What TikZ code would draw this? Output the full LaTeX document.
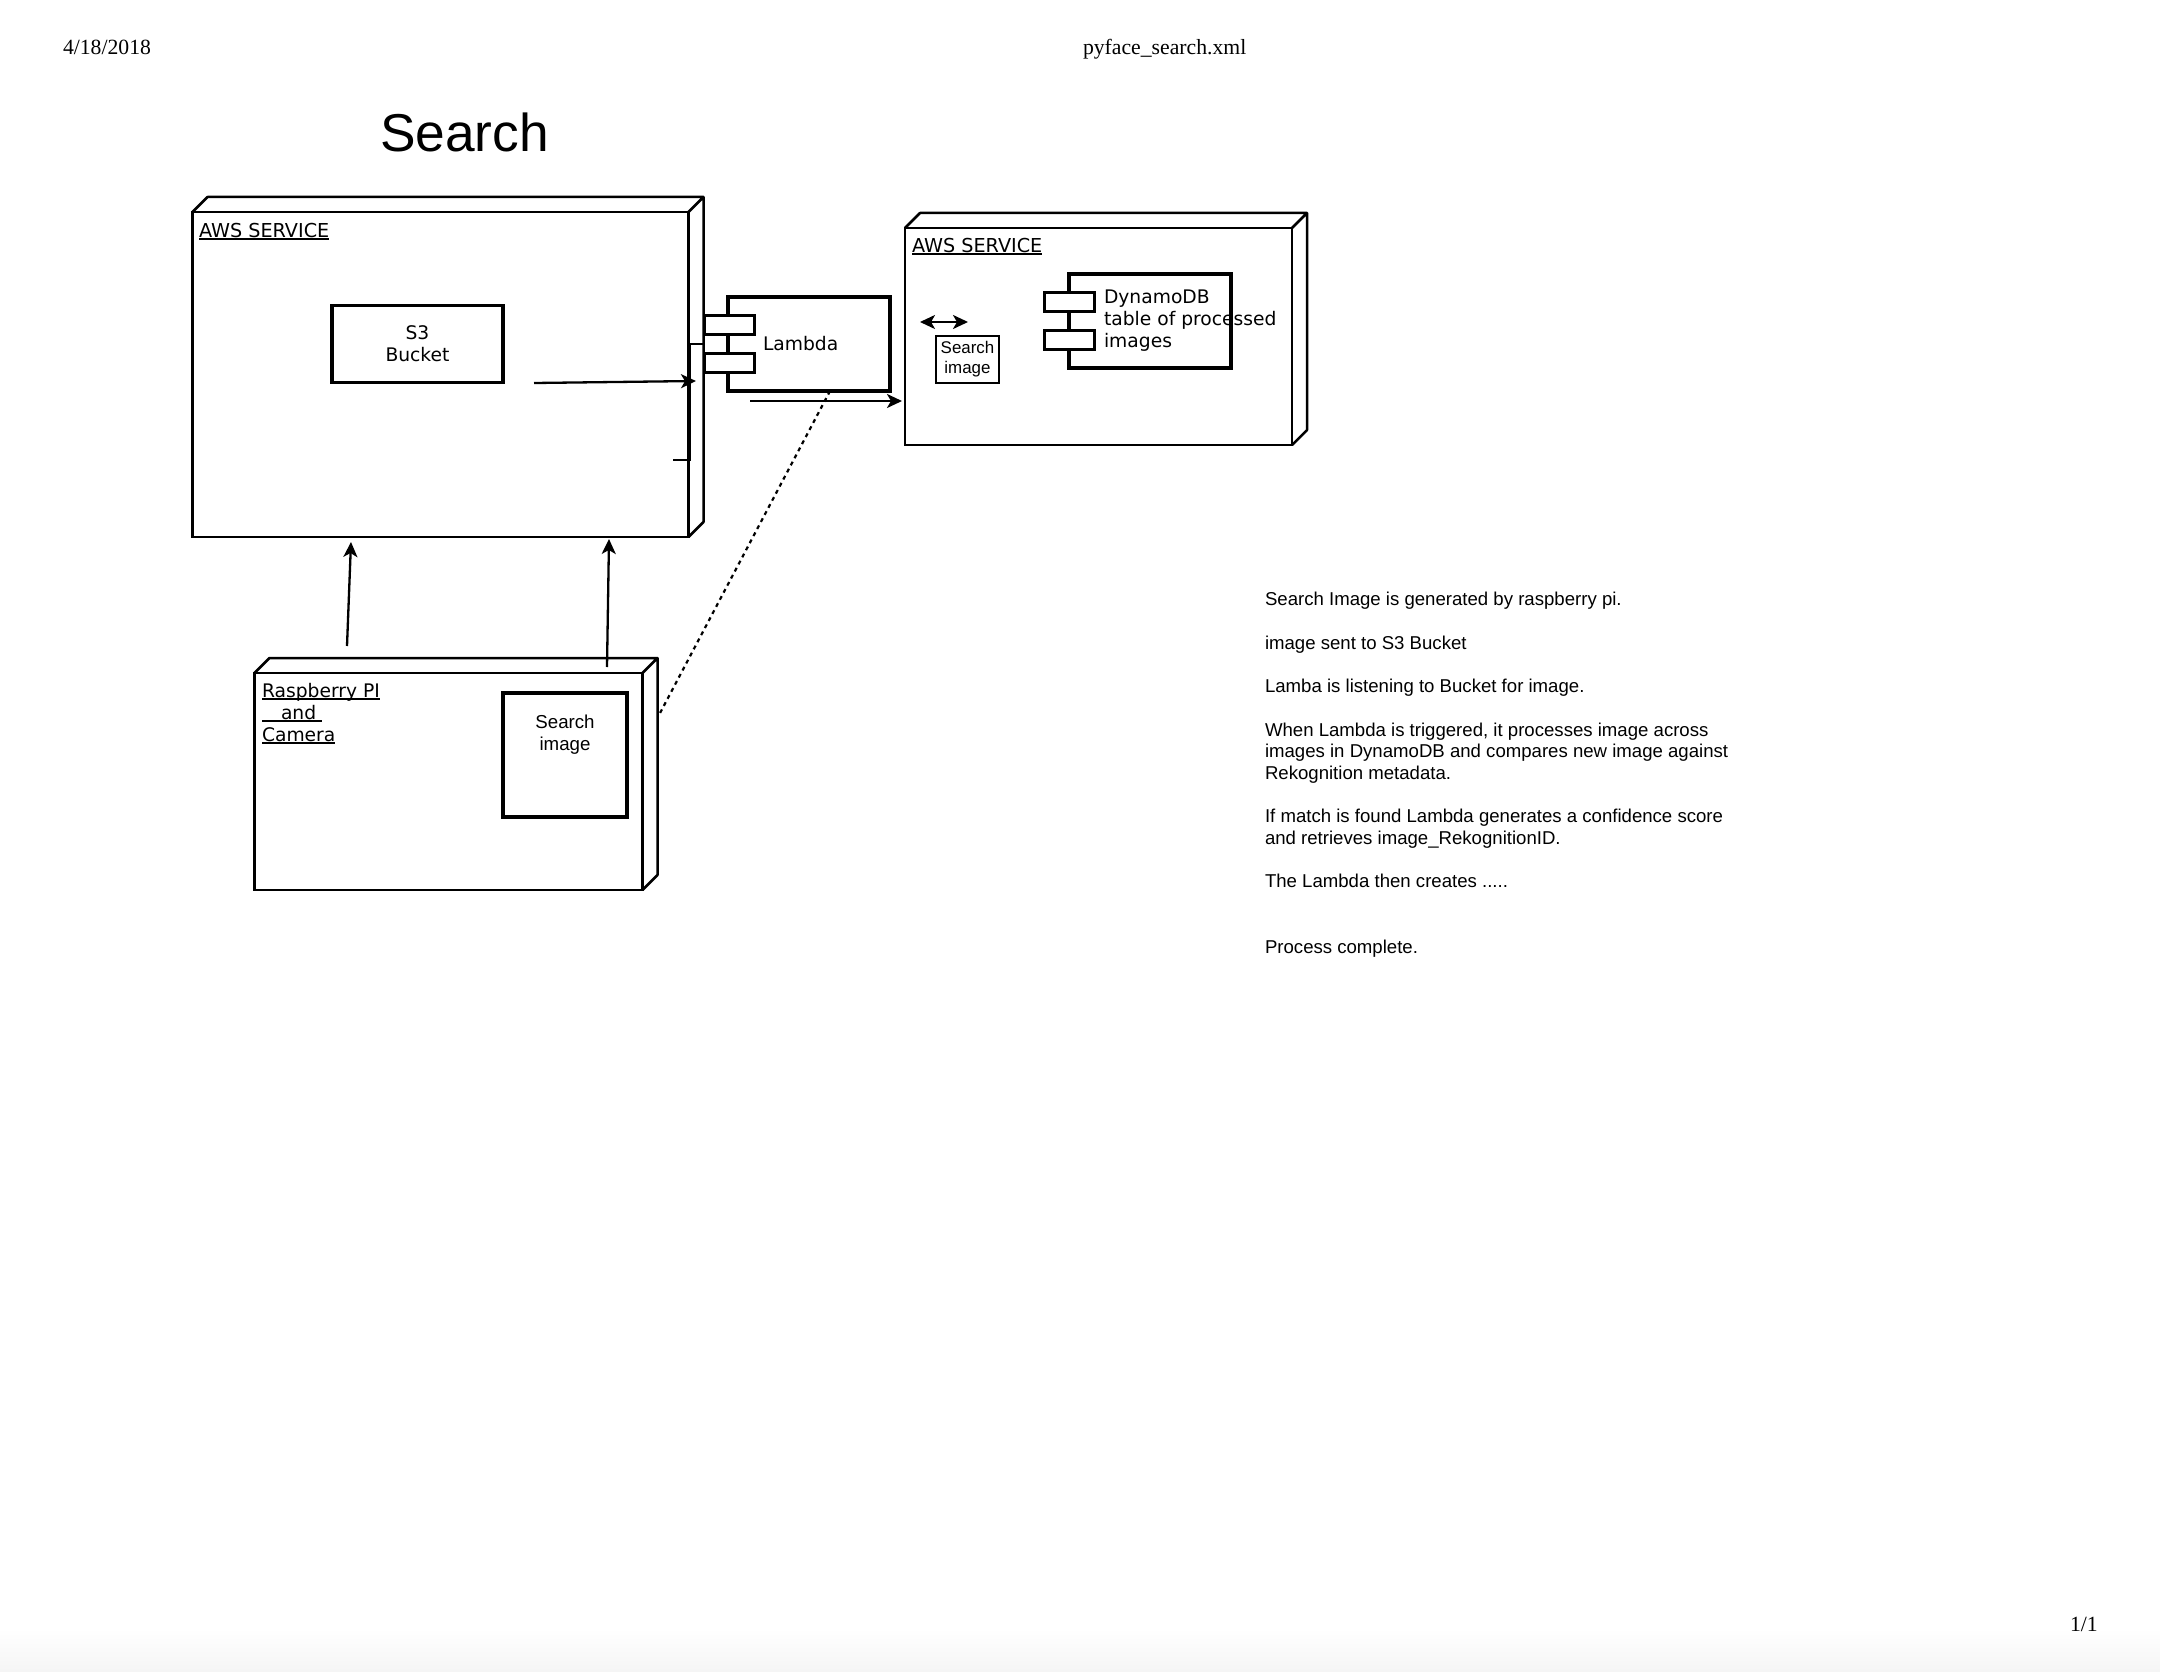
\documentclass[tikz,border=0pt]{standalone}
\usepackage{fontspec}
\setmainfont{Liberation Sans}
\newfontfamily\boxfont{DejaVu Sans}
\newfontfamily\pagefont{Liberation Serif}
\usetikzlibrary{arrows.meta,positioning,calc}

\newsavebox\ulbox
\newcommand{\ulword}[1]{\sbox\ulbox{#1}\rlap{\rule[-3pt]{\wd\ulbox}{1.7pt}}\usebox\ulbox}

\begin{document}
\begin{tikzpicture}[
                    x=1pt, y=-1pt,
                    device/.style={
                        rectangle,
                        draw=black,
                        line width=2.5pt,
                        inner sep=0pt,
                        outer sep=0pt,
                        anchor=north west
                    },
                    part/.style={
                        rectangle,
                        draw=black,
                        line width=3.2pt,
                        inner sep=0pt,
                        outer sep=0pt
                    },
                    port/.style={
                        part,
                        fill=white,
                        line width=3pt,
                        minimum width=50pt,
                        minimum height=19pt
                    },
                    caption/.style={
                        inner sep=0pt,
                        outer sep=0pt,
                        anchor=base west,
                        align=left
                    },
                    boxtext/.style={font=\boxfont\fontsize{18.7}{22}\selectfont},
                    flow/.style={->, line width=2.3pt},
                    >={Stealth[length=15pt,width=14pt,inset=4pt]}
                ]
                \useasboundingbox (0,0) rectangle (2160,1672);
                \shade[top color=white, bottom color=black!4] (0,1628) rectangle (2160,1672);

                % page header and footer
                \node (date) [caption, font=\pagefont\fontsize{21.7}{26}\selectfont] at (63,55) {4/18/2018};
                \node (file) [caption, font=\pagefont\fontsize{21.7}{26}\selectfont] at (1083,55) {pyface\_search.xml};
                \node (pages) [caption, font=\pagefont\fontsize{21.7}{26}\selectfont] at (2070,1631) {1/1};
                \node (title) [caption, font=\fontsize{53.3}{60}\selectfont] at (380,152) {Search};

                % three devices
                \node (awsa) [device, minimum width=496pt, minimum height=325pt] at (192.5,212) {};
                \node (awsb) [device, minimum width=387pt, minimum height=217pt] at (905,228) {};
                \node (rpi) [device, minimum width=388pt, minimum height=217pt] at (254.5,673) {};
                \foreach \n in {awsa,awsb,rpi}
                    \draw [line width=2.5pt, line join=round]
                        (\n.north west) -- ++(15,-15) -| ($(\n.south east)+(15,-15)$) -- (\n.south east)
                        (\n.north east) -- ++(15,-15);

                \node (awsalabel) [caption, font=\boxfont\fontsize{19.2}{22}\selectfont] at (199,237) {\ulword{AWS SERVICE}};
                \node (awsblabel) [caption, font=\boxfont\fontsize{19.2}{22}\selectfont] at (912,252) {\ulword{AWS SERVICE}};
                \node (rpilabel) [caption, boxtext] at (262,741)
                    {\ulword{Raspberry PI}\\\ulword{\hspace*{19pt}and\hspace*{6pt}}\\\ulword{Camera}};

                % inner parts
                \node (s3) [part, boxtext, minimum width=171pt, minimum height=77pt, align=center]
                    at (417.5,344) {S3\\Bucket};

                \node (lambda) [part, minimum width=162pt, minimum height=94pt] at (809,344) {};
                \node (lportA) [port] at (729,325) {};
                \node (lportB) [port] at (729,363) {};
                \node (lambdatext) [caption, boxtext] at (763,350) {Lambda};

                \node (dynamo) [part, minimum width=162pt, minimum height=94pt] at (1150,321) {};
                \node (dportA) [port] at (1069.5,302) {};
                \node (dportB) [port] at (1069.5,339.5) {};
                \node (dynamotext) [caption, boxtext] at (1104,347)
                    {DynamoDB\\table of processed\\images};

                \node (query) [part, line width=2.6pt, minimum width=63pt, minimum height=47pt, align=center,
                    font=\fontsize{16.9}{20}\selectfont] at (967.5,359.5) {Search\\image};
                \node (capture) [part, minimum width=124pt, minimum height=124pt] at (565,755) {};
                \node (capturetext) [caption, anchor=base, align=center, font=\fontsize{18.7}{22}\selectfont]
                    at (565,750) {Search\\image};

                % connectors
                \coordinate (s3out) at (534,383);
                \coordinate (s3in) at (696,381);
                \coordinate (stubA) at (704,344);
                \coordinate (stubB) at (673,460);
                \coordinate (lamout) at (750,401);
                \coordinate (swapA) at (920,322);
                \coordinate (swapB) at (968,322);
                \coordinate (camA) at (347,646);
                \coordinate (camAtop) at (351,542);
                \coordinate (camB) at (607,667);
                \coordinate (camBtop) at (609,539);
                \coordinate (lamtail) at ($(lambda.south west)+(102,0)$);
                \coordinate (rpiside) at (659,715);

                \draw [flow] (s3out) -- (s3in);
                \draw [line width=2.5pt] (stubA) -- (690,344) |- (stubB);
                \draw [flow, shorten >=3pt] (lamout) -- (lamout -| awsb.west);
                \draw [flow, <->] (swapA) -- (swapB);
                \draw [flow] (camA) -- (camAtop);
                \draw [flow] (camB) -- (camBtop);
                \draw [line width=2.2pt, dash pattern=on 4pt off 4pt] (lamtail) -- (rpiside);

                % notes
                \node (notes) [caption, font=\fontsize{18.6}{21.7}\selectfont] at (1265,953)
                    {Search Image is generated by raspberry pi.\\[21.7pt]
                     image sent to S3 Bucket\\[21.7pt]
                     Lamba is listening to Bucket for image.\\[21.7pt]
                     When Lambda is triggered, it processes image across\\
                     images in DynamoDB and compares new image against\\
                     Rekognition metadata.\\[21.7pt]
                     If match is found Lambda generates a confidence score\\
                     and retrieves image\_RekognitionID.\\[21.7pt]
                     The Lambda then creates .....\\[43.4pt]
                     Process complete.};
            \end{tikzpicture}
\end{document}
